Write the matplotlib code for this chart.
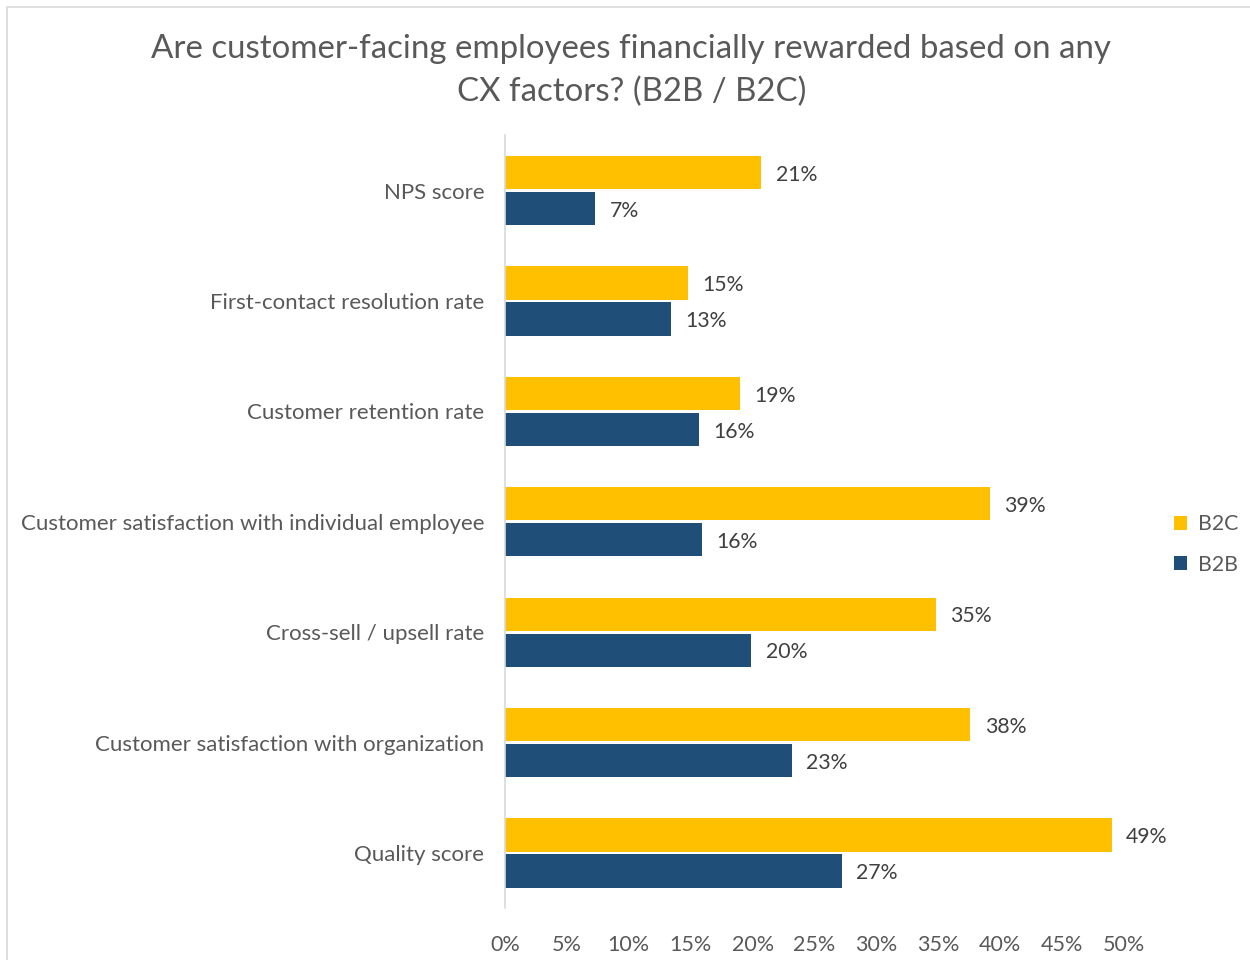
import matplotlib.pyplot as plt
from matplotlib.patches import Rectangle

plt.rcParams['font.family'] = ['Lato', 'DejaVu Sans']

categories = [
    'NPS score',
    'First-contact resolution rate',
    'Customer retention rate',
    'Customer satisfaction with individual employee',
    'Cross-sell / upsell rate',
    'Customer satisfaction with organization',
    'Quality score',
]
b2c = [20.7, 14.8, 19.0, 39.2, 34.8, 37.6, 49.0]
b2b = [7.3, 13.4, 15.7, 15.9, 19.9, 23.2, 27.2]
xticks = [0, 5, 10, 15, 20, 25, 30, 35, 40, 45, 50]

yellow = '#FFC000'
blue = '#1F4E79'
grey = '#595959'

fig = plt.figure(figsize=(12.5, 9.6), dpi=100)
ax = fig.add_axes([0.404, 0.054, 0.4952, 0.805])

pos = list(range(len(categories)))
h = 0.3
off = 0.163
ax.barh([p - off for p in pos], b2c, height=h, color=yellow, label='B2C')
ax.barh([p + off for p in pos], b2b, height=h, color=blue, label='B2B')

for p, v in zip(pos, b2c):
    ax.text(v + 1.15, p - off + 0.02, f'{round(v)}%', va='center', ha='left',
            fontsize=15.3, color='#404040')
for p, v in zip(pos, b2b):
    ax.text(v + 1.15, p + off + 0.02, f'{round(v)}%', va='center', ha='left',
            fontsize=15.3, color='#404040')

ax.set_ylim(6.5, -0.5)
ax.set_xlim(0, 50)
ax.set_yticks(pos)
ax.set_yticklabels(categories, fontsize=16, color=grey)
ax.set_xticks(xticks)
ax.set_xticklabels([f'{t}%' for t in xticks], fontsize=15.5, color=grey)
ax.tick_params(axis='both', length=0)
ax.tick_params(axis='y', pad=15)
ax.tick_params(axis='x', pad=19)

for s in ['top', 'right', 'bottom']:
    ax.spines[s].set_visible(False)
ax.spines['left'].set_color('#D9D9D9')
ax.spines['left'].set_linewidth(1.2)

leg = fig.legend(loc='upper left', bbox_to_anchor=(0.9235, 0.484), frameon=False,
                 fontsize=15.3, handlelength=0.65, handleheight=0.65,
                 handletextpad=0.5, labelspacing=0.95)
for t in leg.get_texts():
    t.set_color(grey)

fig.text(0.505, 0.949, 'Are customer-facing employees financially rewarded based on any',
         ha='center', va='center', fontsize=23.8, color=grey)
fig.text(0.505, 0.904, 'CX factors? (B2B / B2C)',
         ha='center', va='center', fontsize=23.8, color=grey)

fig.patches.append(Rectangle((0.0056, -0.1), 1.5, 0.1 + 0.9927, transform=fig.transFigure,
                             fill=False, edgecolor='#D9D9D9', linewidth=1.2))

fig.savefig('out.png', dpi=100)
